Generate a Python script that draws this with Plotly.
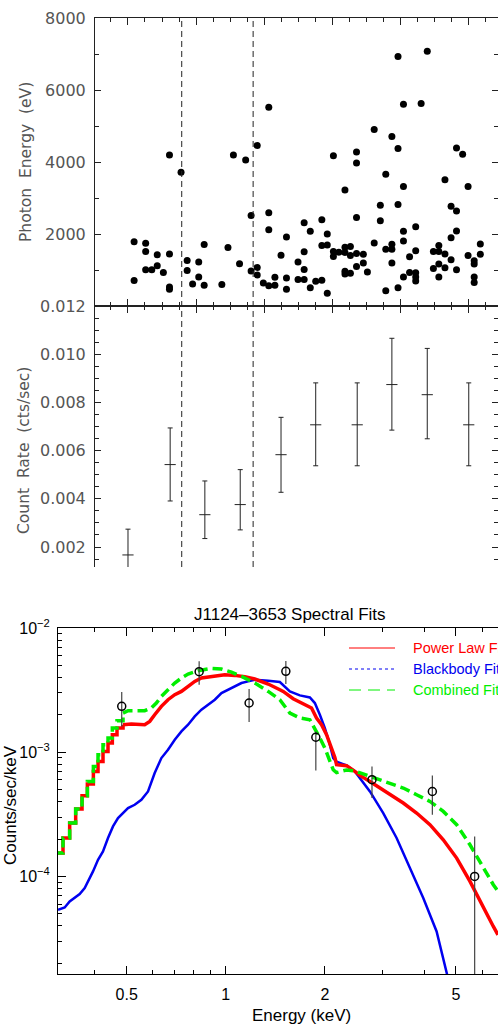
import math
import plotly.graph_objects as go

W, H = 498, 1030


def px(x):
    return x / W


def py(y):
    return 1 - y / H


# ---------------- Panel 1: photon arrival times / energies ----------------
time_ks = [0.9, 0.9, 2.6, 2.6, 2.6, 3.5, 4.3, 4.3, 5.2, 6.1, 6.1, 6.1, 6.1, 7.8, 8.7, 8.7, 9.5,
           10.4, 10.4, 11.2, 11.2, 13.8, 14.7,
           15.5, 16.4, 17.3, 18.1, 18.1, 19.0, 19.0, 19.0, 19.9, 20.7, 20.7, 20.7, 20.7, 21.6, 21.6,
           22.5, 23.3, 23.3, 23.3, 25.0, 25.0, 25.9, 25.9, 25.9, 25.9, 26.8, 26.8, 27.6, 28.5, 28.5,
           28.5, 29.3, 29.3, 29.3, 30.2, 30.2, 30.2, 31.0, 31.9, 31.9, 31.9, 31.9, 31.9, 32.7, 32.7,
           32.7, 33.6, 33.6, 33.6, 33.6, 33.6, 34.6, 34.6, 35.2,
           36.2, 36.2, 37.1, 37.1, 37.9, 37.9, 37.9, 38.8, 38.8, 38.8, 38.8, 39.7, 39.7, 39.7, 39.7,
           40.5, 40.5, 40.5, 40.5, 40.5, 41.4, 41.4, 42.3, 42.3, 42.3, 42.3, 42.3, 43.1, 44.0, 44.9,
           44.9, 45.7, 45.7, 45.7, 45.7, 46.6, 46.6, 46.6, 47.5, 47.5, 47.5, 48.3, 48.3, 48.3, 48.3,
           49.2, 50.0, 50.0, 50.9, 50.9, 50.9, 50.9, 51.8, 51.8]
energy_ev = [1788, 705, 1744, 1513, 1008, 1008, 1421, 1118, 934, 4196, 1441, 530, 466, 3716, 1266, 983, 614,
             1220, 807, 1705, 576, 595, 1623,
             4196, 1174, 4056, 2515, 972, 4460, 1072, 862, 642, 5518, 2587, 2118, 560, 798, 576,
             1413, 1917, 780, 466, 1220, 733, 2311, 1504, 1017, 733, 2074, 504, 687, 2394, 1678,
             714, 2000, 1697, 356, 4176, 1513, 1375, 1495, 3220, 1634, 1485, 962, 890, 1651, 1403,
             907, 4278, 3975, 2460, 1458, 1100, 1440, 1193, 945,
             1752, 4900, 2799, 2366, 3661, 1578, 422, 4708, 1716, 1578, 1193, 6931, 4378, 2818, 504,
             5601, 3322, 2074, 1807, 807, 1366, 934, 2201, 1532, 926, 807, 697, 5628, 7077, 1513,
             1045, 1678, 1513, 1165, 807, 3507, 1441, 1063, 2771, 1899, 1284, 4389, 2642, 2083, 1008,
             4212, 3322, 1403, 1256, 1165, 807, 650, 1724, 1440]

# ---------------- Panel 2: count rate ----------------
rate_time = [0.0, 6.2, 11.3, 16.5, 22.5, 27.6, 33.7, 38.8, 44.0, 50.1]
rate = [0.00167, 0.00542, 0.00334, 0.00376, 0.00583, 0.00707, 0.00707, 0.00874, 0.00832, 0.00707]
rate_hi = [0.00274, 0.00694, 0.00474, 0.00521, 0.00738, 0.00881, 0.00881, 0.01066, 0.01024, 0.00881]
rate_lo = [0.00060, 0.00391, 0.00235, 0.00271, 0.00427, 0.00537, 0.00537, 0.00685, 0.00649, 0.00537]
dash_times = [7.9, 18.4]

# ---------------- Panel 3: spectral fits ----------------
step_e = [0.300, 0.3203, 0.3356, 0.3500, 0.3659, 0.3798, 0.3961, 0.4092, 0.4237, 0.4388, 0.4523,
          0.4673, 0.4874]
pl_step = [1.542e-4, 2.037e-4, 2.690e-4, 3.486e-4, 4.466e-4, 5.541e-4, 7.009e-4, 8.437e-4,
           1.0155e-3, 1.1852e-3, 1.3833e-3, 1.5651e-3, 1.664e-3]
comb_step = [1.542e-4, 2.037e-4, 2.690e-4, 3.486e-4, 4.466e-4, 5.822e-4, 7.689e-4, 9.548e-4,
             1.1491e-3, 1.3003e-3, 1.5651e-3, 1.7929e-3, 2.067e-3]

pl_e = [0.4874, 0.5166, 0.5671, 0.5875, 0.6082, 0.6373, 0.6676, 0.6998, 0.7332, 0.7681, 0.8048,
        0.8432, 0.9047, 0.9930, 1.0650, 1.1421, 1.2248, 1.3453, 1.4593, 1.4937, 1.6020, 1.7181,
        1.8214, 1.8862, 1.9534, 2.0230, 2.0950, 2.1444, 2.1696, 2.3269, 2.4665, 2.5543, 2.7399,
        2.9383, 3.1512, 3.4594, 3.7977, 4.1689, 4.5765, 5.0259, 5.5161, 6.0555, 6.4947, 6.7104]
pl_c = [1.664e-3, 1.685e-3, 1.664e-3, 1.771e-3, 2.003e-3, 2.339e-3, 2.647e-3, 2.904e-3, 3.088e-3,
        3.389e-3, 3.718e-3, 3.956e-3, 4.079e-3, 4.207e-3, 4.155e-3, 4.054e-3, 3.883e-3, 3.539e-3,
        3.186e-3, 3.088e-3, 2.696e-3, 2.443e-3, 2.268e-3, 1.885e-3, 1.664e-3, 1.383e-3, 1.080e-3,
        9.09e-4, 7.93e-4, 7.80e-4, 7.01e-4, 6.51e-4, 5.82e-4, 5.15e-4, 4.55e-4, 3.90e-4, 3.24e-4,
        2.61e-4, 1.975e-4, 1.406e-4, 9.12e-5, 5.56e-5, 3.96e-5, 3.39e-5]

comb_e = [0.4874, 0.5047, 0.5671, 0.5942, 0.6154, 0.6373, 0.6676, 0.6998, 0.7332, 0.7681, 0.8238,
          0.9047, 0.9702, 1.0405, 1.1159, 1.2248, 1.3453, 1.4593, 1.5651, 1.6785, 1.8002, 1.8643,
          1.9307, 1.9995, 2.0707, 2.1195, 2.1696, 2.3269, 2.4665, 2.7399, 3.0786, 3.4594, 3.7977,
          4.1689, 4.5765, 5.0259, 5.5161, 6.0555, 6.4947, 6.7104]
comb_c = [2.067e-3, 2.158e-3, 2.158e-3, 2.268e-3, 2.488e-3, 2.815e-3, 3.186e-3, 3.605e-3, 3.956e-3,
          4.260e-3, 4.530e-3, 4.730e-3, 4.672e-3, 4.419e-3, 4.079e-3, 3.605e-3, 3.088e-3, 2.647e-3,
          2.067e-3, 1.885e-3, 1.826e-3, 1.565e-3, 1.300e-3, 1.080e-3, 8.44e-4, 7.23e-4, 6.85e-4,
          7.20e-4, 7.05e-4, 6.39e-4, 5.65e-4, 5.15e-4, 4.55e-4, 4.02e-4, 3.34e-4, 2.61e-4, 1.80e-4,
          1.168e-4, 8.58e-5, 7.58e-5]

bb_e = [0.3093, 0.3241, 0.3356, 0.3476, 0.3599, 0.3728, 0.3816, 0.3951, 0.4092, 0.4237, 0.4388,
        0.4544, 0.4706, 0.4874, 0.5047, 0.5288, 0.5541, 0.5805, 0.5942, 0.6082, 0.6373, 0.6676,
        0.6998, 0.7332, 0.7681, 0.8048, 0.8432, 0.8838, 0.9260, 0.9702, 1.0164, 1.0650, 1.1159,
        1.1690, 1.2248, 1.3453, 1.4593, 1.5651, 1.6785, 1.8002, 1.8643, 1.9307, 1.9995, 2.0707,
        2.1195, 2.1696, 2.3269, 2.4665, 2.5543, 2.7399, 3.0075, 3.3019, 3.6246, 3.9789, 4.3680,
        4.6847, 4.7500]
bb_c = [5.39e-5, 5.63e-5, 6.29e-5, 6.70e-5, 7.21e-5, 8.06e-5, 9.12e-5, 1.098e-4, 1.363e-4, 1.591e-4,
        2.037e-4, 2.528e-4, 2.951e-4, 3.238e-4, 3.551e-4, 3.777e-4, 4.143e-4, 4.836e-4, 5.822e-4,
        6.797e-4, 8.976e-4, 1.0475e-3, 1.2605e-3, 1.4714e-3, 1.664e-3, 1.943e-3, 2.199e-3,
        2.412e-3, 2.647e-3, 2.995e-3, 3.186e-3, 3.431e-3, 3.605e-3, 3.718e-3, 3.835e-3, 3.765e-3,
        3.673e-3, 3.088e-3, 2.868e-3, 2.763e-3, 2.488e-3, 2.003e-3, 1.565e-3, 1.149e-3, 8.98e-4,
        8.39e-4, 7.83e-4, 7.01e-4, 6.19e-4, 4.84e-4, 3.24e-4, 2.04e-4, 1.168e-4, 6.70e-5, 3.61e-5,
        1.72e-5, 1.45e-5]

obs_e = [0.483, 0.830, 1.177, 1.522, 1.877, 2.78, 4.24, 5.70]
obs_c = [2.34e-3, 4.45e-3, 2.49e-3, 4.48e-3, 1.32e-3, 6.01e-4, 4.83e-4, 1.00e-4]
obs_hi = [3.05e-3, 5.39e-3, 3.23e-3, 5.42e-3, 1.47e-3, 7.69e-4, 6.50e-4, 2.10e-4]
obs_lo = [1.61e-3, 3.49e-3, 1.75e-3, 3.54e-3, 7.13e-4, 4.28e-4, 3.14e-4, 1.0e-5]

legend_names = ["Power Law Fit", "Blackbody Fit", "Combined Fit"]

RED = "#ff0000"
BLUE = "#0000f0"
GREEN = "#00ee00"
AX = "#222222"
GRAYTXT = "#555555"
IDL_FONT = "DejaVu Sans"
SANS = "Liberation Sans"

fig = go.Figure()

# Panel 1
fig.add_trace(go.Scatter(x=time_ks, y=energy_ev, mode="markers",
                         marker=dict(color="black", size=7), xaxis="x", yaxis="y",
                         showlegend=False, hoverinfo="skip"))

# Panel 2
fig.add_trace(go.Scatter(
    x=rate_time, y=rate, mode="markers",
    marker=dict(symbol="line-ew", size=8, color=AX, line=dict(color=AX, width=1)),
    error_y=dict(type="data", symmetric=False,
                 array=[h - c for h, c in zip(rate_hi, rate)],
                 arrayminus=[c - l for c, l in zip(rate, rate_lo)],
                 color=AX, thickness=1, width=2.5),
    xaxis="x2", yaxis="y2", showlegend=False, hoverinfo="skip"))

# Panel 3 models
fig.add_trace(go.Scatter(x=bb_e, y=bb_c, mode="lines", line=dict(color=BLUE, width=2.5),
                         xaxis="x3", yaxis="y3", showlegend=False))
fig.add_trace(go.Scatter(x=step_e, y=pl_step, mode="lines", line=dict(color=RED, width=3.5, shape="hv"),
                         xaxis="x3", yaxis="y3", showlegend=False))
fig.add_trace(go.Scatter(x=pl_e, y=pl_c, mode="lines", line=dict(color=RED, width=3.5),
                         xaxis="x3", yaxis="y3", showlegend=False))
fig.add_trace(go.Scatter(x=step_e, y=comb_step, mode="lines",
                         line=dict(color=GREEN, width=3.5, shape="hv", dash="10px,5px"),
                         xaxis="x3", yaxis="y3", showlegend=False))
fig.add_trace(go.Scatter(x=comb_e, y=comb_c, mode="lines",
                         line=dict(color=GREEN, width=3.5, dash="10px,5px"),
                         xaxis="x3", yaxis="y3", showlegend=False))
fig.add_trace(go.Scatter(
    x=obs_e, y=obs_c, mode="markers",
    marker=dict(symbol="circle-open", size=8, color="black", line=dict(width=1.5, color="black")),
    error_y=dict(type="data", symmetric=False,
                 array=[h - c for h, c in zip(obs_hi, obs_c)],
                 arrayminus=[c - l for c, l in zip(obs_c, obs_lo)],
                 color="#444444", thickness=1.2, width=0),
    xaxis="x3", yaxis="y3", showlegend=False))

shapes = []
for t in dash_times:
    shapes.append(dict(type="line", xref="x", yref="paper", x0=t, x1=t, y0=py(567), y1=py(18),
                       line=dict(color=AX, width=1, dash="6px,4px")))

# legend samples
leg_y = [648, 669, 690]
leg_styles = [dict(color=RED, width=1), dict(color=BLUE, width=1, dash="dot"),
              dict(color=GREEN, width=1, dash="12px,7px")]
leg_cols = [RED, BLUE, GREEN]
annotations = []
for name, yy, st, col in zip(legend_names, leg_y, leg_styles, leg_cols):
    shapes.append(dict(type="line", xref="paper", yref="paper", x0=px(349), x1=px(395),
                       y0=py(yy), y1=py(yy), line=st))
    annotations.append(dict(xref="paper", yref="paper", x=px(411), y=py(yy), text=name,
                            showarrow=False, xanchor="left", yanchor="middle",
                            font=dict(family=SANS, size=14.5, color=col)))

annotations += [
    dict(xref="paper", yref="paper", x=px(26), y=py(162), text="Photon  Energy  (eV)",
         textangle=-90, showarrow=False, xanchor="center", yanchor="middle",
         font=dict(family=IDL_FONT, size=15.5, color=GRAYTXT)),
    dict(xref="paper", yref="paper", x=px(24), y=py(451), text="Count  Rate  (cts/sec)",
         textangle=-90, showarrow=False, xanchor="center", yanchor="middle",
         font=dict(family=IDL_FONT, size=15.5, color=GRAYTXT)),
    dict(xref="paper", yref="paper", x=px(290), y=py(614), text="J1124\u20133653 Spectral Fits",
         showarrow=False, xanchor="center", yanchor="middle",
         font=dict(family=SANS, size=17, color="black")),
    dict(xref="paper", yref="paper", x=px(10), y=py(805), text="Counts/sec/keV",
         textangle=-90, showarrow=False, xanchor="center", yanchor="middle",
         font=dict(family=SANS, size=17, color="black")),
    dict(xref="paper", yref="paper", x=px(301), y=py(1015), text="Energy (keV)",
         showarrow=False, xanchor="center", yanchor="middle",
         font=dict(family=SANS, size=17, color="black")),
]

t_major = [0, 10, 20, 30, 40, 50]
t_minor = [-2.5, 2.5, 5, 7.5, 12.5, 15, 17.5, 22.5, 25, 27.5, 32.5, 35, 37.5, 42.5, 45, 47.5, 52.5]

common_x = dict(range=[-4.85, 54.4], domain=[px(95), 1], showgrid=False, zeroline=False,
                showline=True, linecolor=AX, linewidth=1, ticks="inside", ticklen=7,
                tickcolor=AX, tickvals=t_major, showticklabels=False,
                minor=dict(ticks="inside", ticklen=4, tickcolor=AX, tickvals=t_minor))

e_major = [2000, 4000, 6000, 8000]
e_minor = [1000, 3000, 5000, 7000]
r_major = [0.002, 0.004, 0.006, 0.008, 0.010, 0.012]
r_minor = [0.0015, 0.0025, 0.003, 0.0035, 0.0045, 0.005, 0.0055, 0.0065, 0.007, 0.0075,
           0.0085, 0.009, 0.0095, 0.0105, 0.011, 0.0115]

spec_x_major = [0.5, 1, 2, 5]
spec_x_minor = [0.4, 0.6, 0.7, 0.8, 0.9, 3, 4, 6, 7, 8]
spec_y_major = [1e-4, 1e-3, 1e-2]
spec_y_minor = [m * 10 ** k for k in (-5, -4, -3) for m in range(2, 10)]

fig.update_layout(
    width=W, height=H, margin=dict(l=0, r=0, t=0, b=0, pad=0, autoexpand=False),
    paper_bgcolor="white", plot_bgcolor="white", showlegend=False,
    xaxis=dict(common_x, anchor="y", mirror="ticks"),
    yaxis=dict(domain=[py(306), py(18)], range=[0, 8000], anchor="x", showgrid=False,
               zeroline=False, showline=True, linecolor=AX, linewidth=1, mirror="ticks",
               ticks="inside", ticklen=6, tickcolor=AX, tickvals=e_major,
               ticktext=[str(v) for v in e_major], ticklabelstandoff=5,
               tickfont=dict(family=IDL_FONT, size=16, color=GRAYTXT),
               minor=dict(ticks="inside", ticklen=4, tickcolor=AX, tickvals=e_minor)),
    xaxis2=dict(common_x, anchor="y2", side="top"),
    yaxis2=dict(domain=[py(567), py(306)], range=[0.00117, 0.012], anchor="x2", showgrid=False,
                zeroline=False, showline=True, linecolor=AX, linewidth=1, mirror="ticks",
                ticks="inside", ticklen=6, tickcolor=AX, tickvals=r_major,
                ticktext=["%.3f" % v for v in r_major], ticklabelstandoff=5,
                tickfont=dict(family=IDL_FONT, size=16, color=GRAYTXT),
                minor=dict(ticks="inside", ticklen=4, tickcolor=AX, tickvals=r_minor)),
    xaxis3=dict(type="log", domain=[px(58), 1], range=[math.log10(0.3093), math.log10(6.7104)],
                anchor="y3", showgrid=False, zeroline=False, showline=True, linecolor="black",
                linewidth=1, mirror="ticks", ticks="inside", ticklen=8, tickcolor="black",
                tickvals=spec_x_major, ticktext=["0.5", "1", "2", "5"], ticklabelstandoff=6,
                tickfont=dict(family=SANS, size=16, color="black"),
                minor=dict(ticks="inside", ticklen=4, tickcolor="black", tickvals=spec_x_minor)),
    yaxis3=dict(type="log", domain=[py(974), py(628)], range=[math.log10(1.64e-5), -2],
                anchor="x3", showgrid=False, zeroline=False, showline=True, linecolor="black",
                linewidth=1, ticks="inside", ticklen=8, tickcolor="black",
                tickvals=spec_y_major,
                ticktext=["10<sup>\u22124</sup>", "10<sup>\u22123</sup>", "10<sup>\u22122</sup>"],
                ticklabelstandoff=4, tickfont=dict(family=SANS, size=16, color="black"),
                minor=dict(ticks="inside", ticklen=4, tickcolor="black", tickvals=spec_y_minor)),
    shapes=shapes, annotations=annotations,
)

fig.write_html("out.html")
